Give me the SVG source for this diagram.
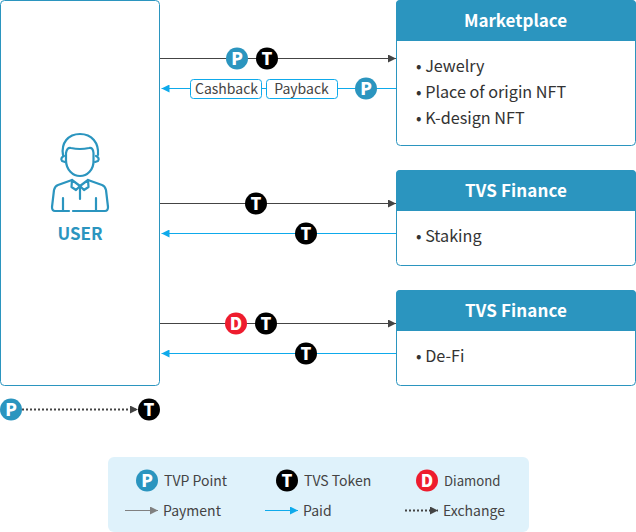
<svg xmlns="http://www.w3.org/2000/svg" width="636" height="532" viewBox="0 0 636 532">
<style>
text{font-family:"Noto Sans CJK KR","Noto Sans",sans-serif}
.box{fill:#fff;stroke:#2b95bf;stroke-width:1}
.head{fill:#2b95bf}
.title{fill:#fff;font-size:17px;font-weight:700;text-anchor:middle}
.item{fill:#333;font-size:16.200px}
.dark{stroke:#444;stroke-width:1;fill:none}
.blue{stroke:#0eaaeb;stroke-width:1;fill:none}
.gray{stroke:#808080;stroke-width:1;fill:none}
.dot{stroke:#444;stroke-width:2;stroke-dasharray:2 2;fill:none}
.p{fill:#2b95bf}.t{fill:#000}.d{fill:#ee1c2e}
.bl{fill:#fff;font-size:17px;font-weight:900;text-anchor:middle}
.leg{fill:#444;font-size:14px}
.tag{fill:#fff;stroke:#0eaaeb;stroke-width:1}
.tagt{fill:#444;font-size:14px;text-anchor:middle}
.ic{fill:none;stroke:#2b95bf;stroke-width:2.2;stroke-linecap:round;stroke-linejoin:round}
</style>
<defs>
<marker id="ad" markerUnits="userSpaceOnUse" markerWidth="8" markerHeight="8" refX="8" refY="4" orient="auto"><path d="M0 0L8 4L0 8Z" fill="#444"/></marker>
<marker id="ab" markerUnits="userSpaceOnUse" markerWidth="8" markerHeight="8" refX="8" refY="4" orient="auto"><path d="M0 0L8 4L0 8Z" fill="#0eaaeb"/></marker>
<marker id="ag" markerUnits="userSpaceOnUse" markerWidth="8" markerHeight="8" refX="8" refY="4" orient="auto"><path d="M0 0L8 4L0 8Z" fill="#808080"/></marker>
</defs>

<g id="connectors">
<path class="dark" marker-end="url(#ad)" d="M160 58.500H396"/>
<path class="blue" marker-end="url(#ab)" d="M396 88.500H161.500"/>
<path class="dark" marker-end="url(#ad)" d="M160 203.500H396"/>
<path class="blue" marker-end="url(#ab)" d="M396 233.500H161.500"/>
<path class="dark" marker-end="url(#ad)" d="M160 323.500H396"/>
<path class="blue" marker-end="url(#ab)" d="M396 353.500H161.500"/>
<path class="dot" marker-end="url(#ad)" d="M22 409.500H138"/>
</g>

<g id="user">
<rect class="box" x="0.500" y="0.500" width="159" height="385" rx="4"/>
<path class="ic" d="M63 155C61 143 68 134 80 134C92 134 99 143 98 155"/>
<path class="ic" d="M66 160V153Q67 147 71 148Q80 150 89 148Q93 147 93.500 153V160C94 170 87 176 80 176C73 176 66 170 66 160Z"/>
<path class="ic" d="M64 156Q60 158 62 161L65 162M96 156Q100 158 98 161L95 162"/>
<path class="ic" d="M72 180L58 185Q55 186 54 190L52 207Q52 211 55 211H69M73 211H105Q108 211 108 207L106 190Q105 186 102 185L88 180"/>
<path class="ic" d="M63 198V211M96 198V211M80 186V199"/>
<path class="ic" d="M72 180L80 186L88 180M72 180L71.500 187L76 190L80 186L84 190L88.500 187L88 180"/>
<text x="80" y="239.500" fill="#2b95bf" font-size="17" font-weight="700" text-anchor="middle">USER</text>
</g>

<g id="marketplace">
<rect class="box" x="396.500" y="0.500" width="239" height="145" rx="4"/>
<path class="head" d="M396 41V4Q396 0 400 0H632Q636 0 636 4V41Z"/>
<text class="title" x="515.500" y="26.500">Marketplace</text>
<text class="item" x="416" y="72">• Jewelry</text>
<text class="item" x="416" y="98">• Place of origin NFT</text>
<text class="item" x="416" y="124">• K-design NFT</text>
</g>

<g id="finance-staking">
<rect class="box" x="396.500" y="170.500" width="239" height="95" rx="4"/>
<path class="head" d="M396 211V174Q396 170 400 170H632Q636 170 636 174V211Z"/>
<text class="title" x="516" y="196.500" textLength="102">TVS Finance</text>
<text class="item" x="416" y="242">• Staking</text>
</g>

<g id="finance-defi">
<rect class="box" x="396.500" y="290.500" width="239" height="95" rx="4"/>
<path class="head" d="M396 331V294Q396 290 400 290H632Q636 290 636 294V331Z"/>
<text class="title" x="516" y="316.500" textLength="102">TVS Finance</text>
<text class="item" x="416" y="362">• De-Fi</text>
</g>

<g id="tag-cashback"><rect class="tag" x="190.500" y="79.500" width="71" height="19" rx="3"/><text class="tagt" x="226.500" y="94">Cashback</text></g>
<g id="tag-payback"><rect class="tag" x="266.500" y="79.500" width="71" height="19" rx="3"/><text class="tagt" x="301.500" y="94">Payback</text></g>

<g id="b1"><circle class="p" cx="237" cy="58.500" r="11"/><text class="bl" x="237" y="64.500">P</text></g>
<g id="b2"><circle class="t" cx="267" cy="58.500" r="11"/><text class="bl" x="267" y="64.500">T</text></g>
<g id="b3"><circle class="p" cx="366" cy="88.500" r="11"/><text class="bl" x="366" y="94.500">P</text></g>
<g id="b4"><circle class="t" cx="256" cy="203.500" r="11"/><text class="bl" x="256" y="209.500">T</text></g>
<g id="b5"><circle class="t" cx="306" cy="233.500" r="11"/><text class="bl" x="306" y="239.500">T</text></g>
<g id="b6"><circle class="d" cx="236" cy="323.500" r="11"/><text class="bl" x="236" y="329.500">D</text></g>
<g id="b7"><circle class="t" cx="266" cy="323.500" r="11"/><text class="bl" x="266" y="329.500">T</text></g>
<g id="b8"><circle class="t" cx="306" cy="353.500" r="11"/><text class="bl" x="306" y="359.500">T</text></g>
<g id="b9"><circle class="p" cx="11" cy="409.500" r="11"/><text class="bl" x="11" y="415.500">P</text></g>
<g id="b10"><circle class="t" cx="149" cy="409.500" r="11"/><text class="bl" x="149" y="415.500">T</text></g>

<g id="legend">
<rect x="108" y="457" width="421" height="75" rx="6" fill="#dff2fb"/>
<circle class="p" cx="147" cy="480.500" r="11"/><text class="bl" x="147" y="486.500">P</text>
<text class="leg" x="164" y="486">TVP Point</text>
<circle class="t" cx="287" cy="480.500" r="11"/><text class="bl" x="287" y="486.500">T</text>
<text class="leg" x="304" y="486">TVS Token</text>
<circle class="d" cx="427" cy="480.500" r="11"/><text class="bl" x="427" y="486.500">D</text>
<text class="leg" x="444" y="486" font-size="13.200" style="font-size:13.200px">Diamond</text>
<path class="gray" marker-end="url(#ag)" d="M125 510.500H158"/>
<text class="leg" x="163" y="516">Payment</text>
<path class="blue" marker-end="url(#ab)" d="M265 510.500H298"/>
<text class="leg" x="303" y="516">Paid</text>
<path class="dot" marker-end="url(#ad)" d="M405 510.500H438"/>
<text class="leg" x="443" y="516">Exchange</text>
</g>
</svg>
